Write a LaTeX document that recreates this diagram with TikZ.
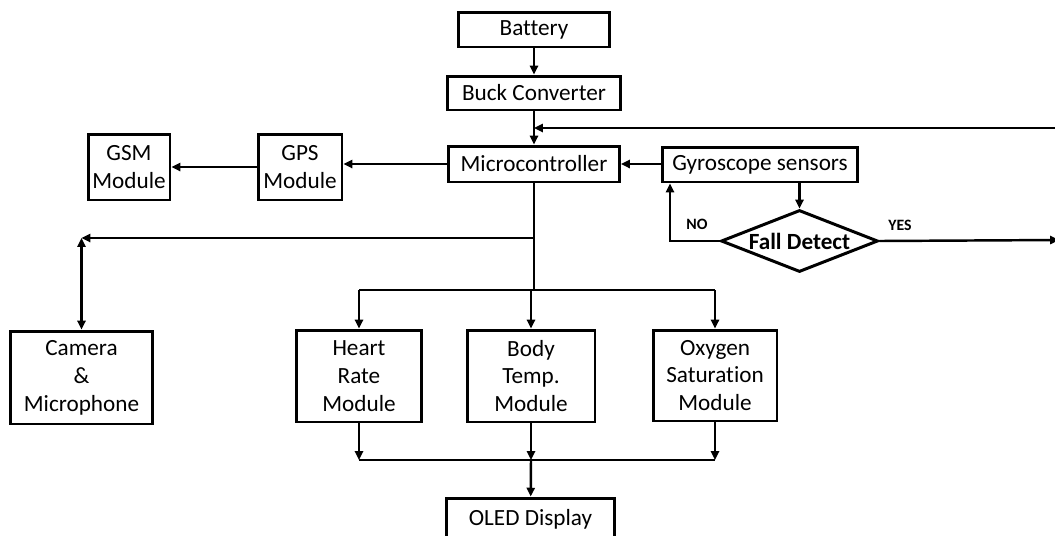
\documentclass[tikz,border=0pt]{standalone}
\usepackage{fontspec}
\setmainfont{Carlito}[Ligatures=NoCommon]
\usepackage{tikz}
\usetikzlibrary{positioning,arrows.meta,shapes.geometric}

\begin{document}
\begin{tikzpicture}[
    x=0.02cm, y=-0.02cm,
    block/.style={rectangle, draw, line width=1.7pt, inner sep=0pt, align=center,
        font=\fontsize{13.2}{15.9}\selectfont},
    decision/.style={diamond, draw, line width=1.7pt, inner sep=0pt, aspect=2.5,
        minimum width=3.14cm, minimum height=1.24cm, font=\fontsize{13.2}{15.9}\selectfont\bfseries},
    arrow/.style={-{Triangle[length=5pt,width=4.6pt]}, line width=1.4pt},
    line/.style={line width=1.4pt},
    answer/.style={font=\fontsize{9}{11}\selectfont\bfseries}
]
    \clip (0,0) rectangle (1055,535);

    \node[block, minimum width=3.04cm, minimum height=0.70cm] (bat) at (534,29.5) {Battery};
    \node[block, minimum width=3.46cm, minimum height=0.68cm] (buck) at (534,93) {Buck Converter};
    \node[block, minimum width=3.42cm, minimum height=0.72cm] (mc) at (534,164) {Microcontroller};
    \node[block, minimum width=3.92cm, minimum height=0.70cm] (gyro) at (760,164.5) {Gyroscope sensors};
    \node[block, minimum width=1.68cm, minimum height=1.32cm] (gps) at (300,167) {GPS\\Module};
    \node[block, minimum width=1.64cm, minimum height=1.32cm] (gsm) at (129,167) {GSM\\Module};
    \node[decision] (fall) at (799.5,241) {Fall Detect};
    \node[block, minimum width=2.86cm, minimum height=1.86cm] (cam) at (81.5,377.5) {Camera\\\&\\Microphone};
    \node[block, minimum width=2.52cm, minimum height=1.84cm] (hr) at (359,376) {Heart\\Rate\\Module};
    \node[block, minimum width=2.56cm, minimum height=1.84cm] (bt) at (531,376) {Body\\Temp.\\Module};
    \node[block, minimum width=2.48cm, minimum height=1.82cm] (ox) at (715,375.5) {Oxygen\\Saturation\\Module};
    \node[block, minimum width=3.38cm, minimum height=0.84cm] (oled) at (530.5,519) {OLED Display};

    \node[answer] (no) at (697,224) {NO};
    \node[answer] (yes) at (900,225) {YES};

    \coordinate (fb) at (1055,128);
    \coordinate (yesend) at (1059,240);
    \coordinate (noc) at (670,241);
    \coordinate (camj) at (534,238);
    \coordinate (busup) at (534,290);
    \coordinate (busdown) at (531,460);

    \draw[arrow] (bat) -- (buck);
    \draw[arrow] (buck) -- (mc);
    \draw[arrow] (fb) -- (fb -| mc.north);
    \draw[arrow] (gyro.west |- mc.east) -- (mc.east);
    \draw[arrow] (mc.west) -- (mc.west -| gps.east);
    \draw[arrow] (gps) -- (gsm);
    \draw[arrow] (fall.north |- gyro.south) -- (fall.north);
    \draw[arrow] (fall.west) -- (noc) -- (noc |- gyro.south);
    \draw[arrow] (fall.east) -- (yesend);

    \draw[line] (mc.south) -- (busup);
    \draw[arrow] (camj) -- (camj -| cam.north);
    \draw[{Triangle[length=5pt,width=4.6pt]}-{Triangle[length=5pt,width=4.6pt]}, line width=1.4pt]
        (camj -| cam.north) -- (cam.north);

    \draw[line] (busup -| hr.north) -- (busup -| ox.north);
    \foreach \m in {hr,bt,ox}
        \draw[arrow] (busup -| \m.north) -- (\m.north);

    \foreach \m in {hr,bt,ox}
        \draw[arrow] (\m.south) -- (busdown -| \m.south);
    \draw[line] (busdown -| hr.south) -- (busdown -| ox.south);
    \draw[arrow] (busdown) -- (oled);
\end{tikzpicture}
\end{document}
